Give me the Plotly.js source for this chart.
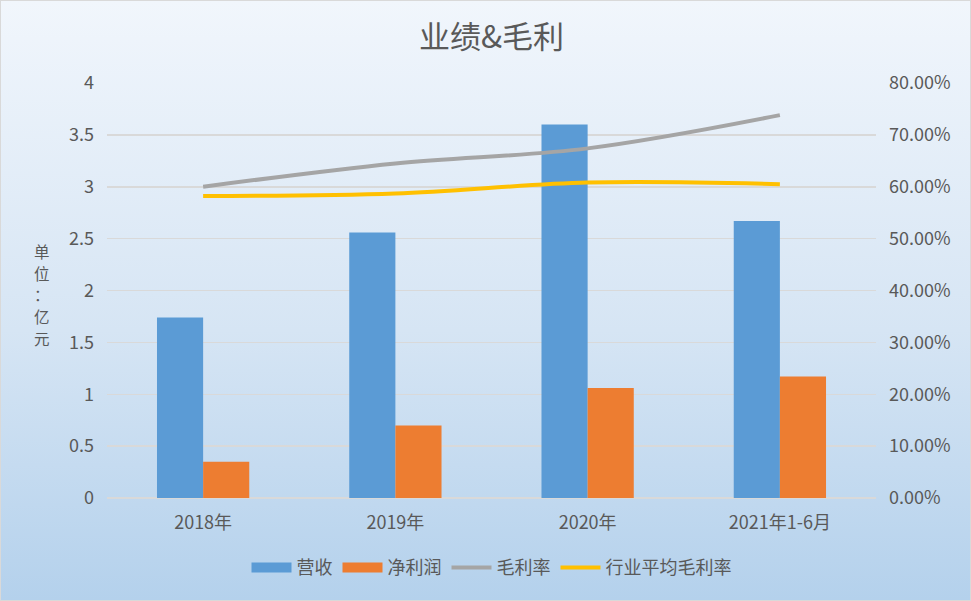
<!DOCTYPE html>
<html>
<head>
<meta charset="utf-8">
<script src="https://cdn.plot.ly/plotly-3.0.1.min.js"></script>
<style>
  html, body { margin: 0; padding: 0; }
  #chart {
    width: 969px; height: 599px;
    border: 1px solid #d9d9d9;
    background: linear-gradient(to bottom, #f1f6fc 0%, #d6e5f4 55%, #b4d1ec 100%);
  }
</style>
</head>
<body>
<div id="chart"></div>
<script>
var categories = ['2018年', '2019年', '2020年', '2021年1-6月'];
var revenue    = [1.74, 2.56, 3.60, 2.67];
var netProfit  = [0.35, 0.70, 1.06, 1.17];
var grossMargin    = [0.600, 0.645, 0.674, 0.738];
var industryMargin = [0.582, 0.587, 0.608, 0.605];
var yTitleChars = ['单', '位', '：', '亿', '元'];

var font = 'Noto Sans CJK SC, Noto Sans, sans-serif';
var grey = '#595959';
var blue = '#5b9bd5', orange = '#ed7d31';

var traces = [
    {
        name: '营收', type: 'bar', x: categories, y: revenue,
        marker: {color: blue}, showlegend: false
    },
    {
        name: '净利润', type: 'bar', x: categories, y: netProfit,
        marker: {color: orange}, showlegend: false
    },
    {
        name: '毛利率', type: 'scatter', mode: 'lines', x: categories, y: grossMargin,
        yaxis: 'y2', line: {color: '#a5a5a5', width: 4, shape: 'spline', smoothing: 1},
        legendrank: 3
    },
    {
        name: '行业平均毛利率', type: 'scatter', mode: 'lines', x: categories, y: industryMargin,
        yaxis: 'y2', line: {color: '#ffc000', width: 4, shape: 'spline', smoothing: 1},
        legendrank: 4
    },
    // legend entries for the bars, drawn as wide blocks like the original
    {
        name: '营收', type: 'scatter', mode: 'lines', x: [null], y: [null],
        line: {color: blue, width: 10}, legendrank: 1
    },
    {
        name: '净利润', type: 'scatter', mode: 'lines', x: [null], y: [null],
        line: {color: orange, width: 10}, legendrank: 2
    }
];

var annotations = [];
for (var iii = 0; iii < yTitleChars.length; iii++) {
    annotations.push({
        text: yTitleChars[iii], xref: 'paper', yref: 'paper',
        x: -0.085, y: (498 - 250 - iii * 22) / 416,
        xanchor: 'center', yanchor: 'middle', showarrow: false, borderpad: 0,
        font: {size: 15.5, color: grey}
    });
}

var layout = {
    width: 969, height: 599,
    paper_bgcolor: 'rgba(0,0,0,0)',
    plot_bgcolor: 'rgba(0,0,0,0)',
    margin: {l: 106, r: 94, t: 82, b: 102},
    font: {family: font, color: grey, size: 18},
    title: {text: '业绩&毛利', x: 0.5, xref: 'paper', y: 0.94, yref: 'container',
            yanchor: 'middle', font: {size: 31, color: grey, family: font}},
    barmode: 'group',
    bargap: 0.52,
    bargroupgap: 0,
    showlegend: true,
    legend: {orientation: 'h', x: 0.5, xanchor: 'center', y: -0.168, yanchor: 'middle',
             font: {size: 18, color: grey}, itemwidth: 40, traceorder: 'normal',
             bgcolor: 'rgba(0,0,0,0)'},
    xaxis: {type: 'category', showgrid: false, showline: false, ticks: '',
            ticklabelstandoff: 12, tickfont: {size: 18, color: grey}},
    yaxis: {range: [0, 4], dtick: 0.5, showgrid: true, gridcolor: '#d9d9d9', gridwidth: 1.5,
            zeroline: true, zerolinecolor: '#d9d9d9', zerolinewidth: 1.5,
            showline: false, ticks: '', ticklabelstandoff: 12,
            tickfont: {size: 18, color: grey}},
    yaxis2: {range: [0, 0.8], dtick: 0.1, overlaying: 'y', side: 'right',
             tickformat: '.2%', showgrid: false, zeroline: false, showline: false,
             ticks: '', ticklabelstandoff: 12, tickfont: {size: 18, color: grey}},
    annotations: annotations
};

Plotly.newPlot('chart', traces, layout, {displayModeBar: false, staticPlot: true});
</script>
</body>
</html>
